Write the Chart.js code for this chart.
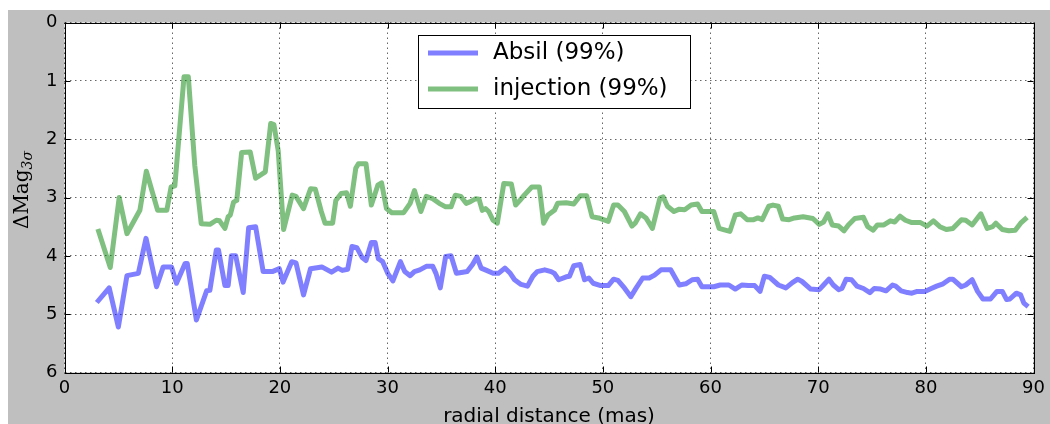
<!DOCTYPE html>
<html>
<head>
<meta charset="utf-8">
<script src="https://cdn.jsdelivr.net/npm/chart.js@4.4.1/dist/chart.umd.min.js"></script>
<style>
  html, body { margin: 0; padding: 0; background: #fff; }
  canvas { display: block; }
</style>
</head>
<body>
<canvas id="myChart" width="1050" height="424"></canvas>
<script>
// radial distance (mas) and contrast limits for each method
var absilR = [3.0, 4.15, 5.0, 5.8, 6.86, 7.57, 8.55, 9.17, 9.94, 10.4, 11.2, 11.4, 12.25, 13.2, 13.5, 14.1, 14.3, 14.9, 15.2, 15.5,
    15.9, 16.6, 17.1, 17.75, 18.45, 19.3, 19.95, 20.3, 21.1, 21.5, 22.2, 22.85, 23.9, 24.8, 25.4, 25.8, 26.3, 26.7, 27.15, 27.65,
    28.0, 28.5, 28.85, 29.15, 29.55, 30.05, 30.5, 31.2, 31.6, 32.1, 32.5, 33.0, 33.6, 34.2, 34.5, 34.9, 35.4, 35.9, 36.4, 37.0,
    37.4, 37.9, 38.3, 38.7, 39.2, 39.8, 40.3, 40.9, 41.4, 41.8, 42.4, 43.0, 43.5, 43.9, 44.6, 45.2, 45.5, 45.9, 46.6, 46.9,
    47.3, 47.9, 48.3, 48.7, 49.1, 49.8, 50.5, 51.0, 51.4, 52.0, 52.6, 53.1, 53.7, 54.3, 54.8, 55.4, 56.3, 57.1, 57.7, 58.3,
    58.8, 59.2, 60.3, 60.9, 61.7, 62.3, 62.9, 63.5, 64.1, 64.6, 65.0, 65.5, 66.3, 67.0, 67.6, 68.1, 68.5, 69.3, 70.1, 70.5,
    71.0, 71.4, 71.9, 72.2, 72.6, 73.1, 73.6, 74.2, 74.8, 75.2, 75.8, 76.3, 76.9, 77.2, 77.7, 78.3, 78.7, 79.2, 79.9, 80.5,
    81.0, 81.6, 82.2, 82.5, 83.3, 83.7, 84.3, 84.8, 85.3, 86.0, 86.6, 87.1, 87.5, 87.8, 88.4, 88.8, 89.1, 89.5];
var absilMag = [4.8, 4.55, 5.22, 4.34, 4.3, 3.7, 4.53, 4.19, 4.19, 4.47, 4.13, 4.13, 5.1, 4.6, 4.59, 3.9, 3.9, 4.51, 4.51, 4.0,
    4.0, 4.63, 3.52, 3.5, 4.27, 4.27, 4.22, 4.45, 4.1, 4.12, 4.67, 4.22, 4.19, 4.28, 4.21, 4.25, 4.23, 3.84, 3.86, 4.03,
    4.08, 3.77, 3.77, 4.05, 4.1, 4.31, 4.43, 4.1, 4.27, 4.34, 4.27, 4.24, 4.18, 4.18, 4.3, 4.55, 4.01, 4.0, 4.3, 4.28,
    4.27, 4.15, 4.02, 4.21, 4.25, 4.3, 4.3, 4.21, 4.3, 4.41, 4.49, 4.52, 4.35, 4.27, 4.24, 4.27, 4.3, 4.41, 4.36, 4.35,
    4.17, 4.15, 4.41, 4.38, 4.47, 4.51, 4.51, 4.4, 4.42, 4.55, 4.7, 4.55, 4.38, 4.38, 4.33, 4.24, 4.24, 4.5, 4.48, 4.41,
    4.4, 4.53, 4.53, 4.5, 4.5, 4.57, 4.5, 4.51, 4.51, 4.61, 4.35, 4.37, 4.5, 4.55, 4.46, 4.4, 4.44, 4.57, 4.58, 4.5,
    4.4, 4.5, 4.58, 4.56, 4.4, 4.41, 4.52, 4.56, 4.63, 4.56, 4.57, 4.6, 4.5, 4.52, 4.6, 4.63, 4.64, 4.61, 4.61, 4.56,
    4.52, 4.48, 4.4, 4.4, 4.53, 4.5, 4.41, 4.61, 4.74, 4.74, 4.61, 4.61, 4.75, 4.74, 4.64, 4.67, 4.81, 4.87];

var injR = [3.1, 4.25, 5.08, 5.8, 7.0, 7.6, 8.65, 9.5, 9.9, 10.25, 11.1, 11.5, 12.1, 12.7, 13.5, 14.1, 14.4, 14.9, 15.2, 15.4,
    15.7, 16.0, 16.45, 17.25, 17.75, 18.65, 19.15, 19.45, 19.85, 20.35, 21.15, 21.5, 22.2, 22.85, 23.3, 23.85, 24.2, 24.9, 25.2, 25.7,
    26.2, 26.55, 27.05, 27.3, 28.0, 28.5, 29.1, 29.45, 29.9, 30.4, 31.5, 32.1, 32.5, 33.1, 33.6, 34.2, 34.8, 35.4, 35.9, 36.3,
    36.8, 37.3, 37.7, 38.2, 38.5, 38.8, 39.1, 39.4, 39.8, 40.2, 40.8, 41.5, 41.9, 42.3, 42.7, 43.4, 44.1, 44.5, 44.9, 45.5,
    45.8, 46.6, 47.3, 47.9, 48.5, 49.0, 49.6, 50.5, 51.0, 51.4, 52.0, 52.7, 53.0, 53.5, 54.0, 54.6, 55.3, 55.6, 56.0, 56.6,
    57.1, 57.6, 58.2, 58.8, 59.2, 59.8, 60.3, 60.8, 61.2, 61.8, 62.3, 62.8, 63.4, 64.0, 64.4, 64.8, 65.4, 65.8, 66.3, 66.7,
    67.3, 67.8, 68.6, 69.5, 70.1, 70.5, 70.9, 71.3, 71.9, 72.4, 72.8, 73.4, 74.2, 74.6, 75.1, 75.5, 76.1, 76.7, 77.1, 77.6,
    78.1, 78.7, 79.5, 80.1, 80.7, 81.3, 81.9, 82.5, 83.3, 83.7, 84.3, 85.1, 85.7, 86.2, 86.5, 87.1, 87.7, 88.3, 88.8, 89.4];
var injMag = [3.54, 4.2, 3.0, 3.62, 3.22, 2.55, 3.22, 3.22, 2.82, 2.8, 0.93, 0.93, 2.45, 3.45, 3.46, 3.39, 3.4, 3.53, 3.33, 3.3,
    3.08, 3.05, 2.23, 2.22, 2.67, 2.56, 1.73, 1.75, 2.2, 3.55, 2.96, 2.98, 3.19, 2.85, 2.86, 3.24, 3.44, 3.44, 3.05, 2.93,
    2.92, 3.15, 2.5, 2.42, 2.42, 3.13, 2.79, 2.75, 3.19, 3.26, 3.26, 3.1, 2.88, 3.24, 2.98, 3.02, 3.1, 3.16, 3.16, 2.96,
    2.98, 3.1, 3.07, 3.02, 3.03, 3.22, 3.19, 3.24, 3.39, 3.44, 2.76, 2.77, 3.13, 3.05, 2.96, 2.82, 2.82, 3.44, 3.3, 3.22,
    3.1, 3.09, 3.11, 2.97, 2.97, 3.33, 3.35, 3.41, 3.13, 3.13, 3.24, 3.49, 3.44, 3.28, 3.35, 3.53, 3.01, 2.99, 3.15, 3.24,
    3.2, 3.21, 3.13, 3.11, 3.24, 3.24, 3.24, 3.53, 3.55, 3.58, 3.3, 3.28, 3.38, 3.38, 3.35, 3.38, 3.15, 3.13, 3.15, 3.37,
    3.38, 3.35, 3.33, 3.36, 3.46, 3.42, 3.28, 3.47, 3.49, 3.57, 3.47, 3.36, 3.34, 3.5, 3.56, 3.47, 3.47, 3.4, 3.42, 3.32,
    3.39, 3.43, 3.43, 3.49, 3.4, 3.5, 3.55, 3.53, 3.38, 3.39, 3.47, 3.28, 3.53, 3.5, 3.44, 3.55, 3.57, 3.56, 3.44, 3.34];

var labels = ['Absil (99%)', 'injection (99%)'];
var colors = ['rgba(0, 0, 255, 0.5)', 'rgba(0, 128, 0, 0.5)'];

function toPoints(xs, ys) {
    return xs.map(function (x, i) { return { x: x, y: ys[i] }; });
}

// gray figure background, white axes background
var background = {
    id: 'background',
    beforeDraw: function (chart) {
        var ctx = chart.ctx, a = chart.chartArea;
        ctx.save();
        ctx.fillStyle = '#ffffff';
        ctx.fillRect(0, 0, chart.width, chart.height);
        ctx.fillStyle = '#bfbfbf';
        ctx.fillRect(8, 10, chart.width - 8, chart.height - 10);
        ctx.fillStyle = '#ffffff';
        ctx.fillRect(a.left, a.top, a.right - a.left, a.bottom - a.top);
        ctx.restore();
    }
};

// frame, inward ticks, axis titles and legend
var decorations = {
    id: 'decorations',
    afterDraw: function (chart) {
        var ctx = chart.ctx, a = chart.chartArea;
        var xs = chart.scales.x, ys = chart.scales.y;
        ctx.save();
        ctx.strokeStyle = '#000';
        ctx.lineWidth = 1;
        ctx.strokeRect(Math.round(a.left) + 0.5, Math.round(a.top) + 0.5,
            Math.round(a.right - a.left), Math.round(a.bottom - a.top));

        var tl = 6;
        ctx.beginPath();
        xs.ticks.forEach(function (t) {
            var px = Math.round(xs.getPixelForValue(t.value)) + 0.5;
            ctx.moveTo(px, a.bottom); ctx.lineTo(px, a.bottom - tl);
            ctx.moveTo(px, a.top); ctx.lineTo(px, a.top + tl);
        });
        ys.ticks.forEach(function (t) {
            var py = Math.round(ys.getPixelForValue(t.value)) + 0.5;
            ctx.moveTo(a.left, py); ctx.lineTo(a.left + tl, py);
            ctx.moveTo(a.right, py); ctx.lineTo(a.right - tl, py);
        });
        ctx.stroke();

        // x title
        ctx.fillStyle = '#000';
        ctx.font = '20px "DejaVu Sans"';
        ctx.textAlign = 'center';
        ctx.textBaseline = 'middle';
        ctx.fillText('radial distance (mas)', (a.left + a.right) / 2, 417);

        // y title: ΔMag with 3σ subscript
        ctx.translate(22, 190);
        ctx.rotate(-Math.PI / 2);
        ctx.font = '20px "DejaVu Serif"';
        var main = 'ΔMag';
        var w1 = ctx.measureText(main).width;
        ctx.font = 'italic 14px "DejaVu Serif"';
        var w2 = ctx.measureText('3σ').width;
        var x0 = -(w1 + w2) / 2;
        ctx.textAlign = 'left';
        ctx.textBaseline = 'alphabetic';
        ctx.font = '20px "DejaVu Serif"';
        ctx.fillText(main, x0, 6);
        ctx.font = 'italic 14px "DejaVu Serif"';
        ctx.fillText('3σ', x0 + w1, 10);
        ctx.setTransform(1, 0, 0, 1, 0, 0);

        // legend box
        var lx = 418.5, ly = 35.5, lw = 272, lh = 73;
        ctx.fillStyle = '#fff';
        ctx.fillRect(lx, ly, lw, lh);
        ctx.strokeStyle = '#000';
        ctx.strokeRect(lx, ly, lw, lh);
        ctx.font = '23px "DejaVu Sans"';
        ctx.textAlign = 'left';
        ctx.textBaseline = 'middle';
        var rows = [53, 89];
        labels.forEach(function (lab, i) {
            ctx.strokeStyle = colors[i];
            ctx.lineWidth = 5;
            ctx.beginPath();
            ctx.moveTo(428, rows[i]);
            ctx.lineTo(478, rows[i]);
            ctx.stroke();
            ctx.fillStyle = '#000';
            ctx.fillText(lab, 493, rows[i]);
        });
        ctx.restore();
    }
};

var ctx = document.getElementById('myChart').getContext('2d');

var data = {
    datasets: [{
        label: labels[0],
        data: toPoints(absilR, absilMag),
        borderColor: colors[0],
        borderWidth: 5,
        pointRadius: 0,
        tension: 0,
        borderJoinStyle: 'round'
    }, {
        label: labels[1],
        data: toPoints(injR, injMag),
        borderColor: colors[1],
        borderWidth: 5,
        pointRadius: 0,
        tension: 0,
        borderJoinStyle: 'round'
    }]
};

var gridStyle = {
    color: 'rgba(0, 0, 0, 0.6)',
    lineWidth: 1,
    drawTicks: false
};

var options = {
    responsive: false,
    animation: false,
    layout: { padding: { left: 0, top: 22.5, right: 11.5, bottom: 0 } },
    plugins: {
        legend: { display: false },
        tooltip: { enabled: false }
    },
    scales: {
        x: {
            type: 'linear',
            min: 0,
            max: 90,
            grid: gridStyle,
            border: { display: false, dash: [1.5, 3.5] },
            ticks: {
                stepSize: 10,
                padding: 5,
                color: '#000',
                font: { family: 'DejaVu Sans', size: 18 },
                maxRotation: 0
            },
            afterFit: function (scale) { scale.height = 51.5; }
        },
        y: {
            reverse: true,
            min: 0,
            max: 6,
            grid: gridStyle,
            border: { display: false, dash: [1.5, 3.5] },
            ticks: {
                stepSize: 1,
                padding: 7,
                color: '#000',
                font: { family: 'DejaVu Sans', size: 18 }
            },
            afterFit: function (scale) { scale.width = 64.5; }
        }
    }
};

var myChart = new Chart(ctx, {
    type: 'line',
    data: data,
    options: options,
    plugins: [background, decorations]
});
</script>
</body>
</html>
